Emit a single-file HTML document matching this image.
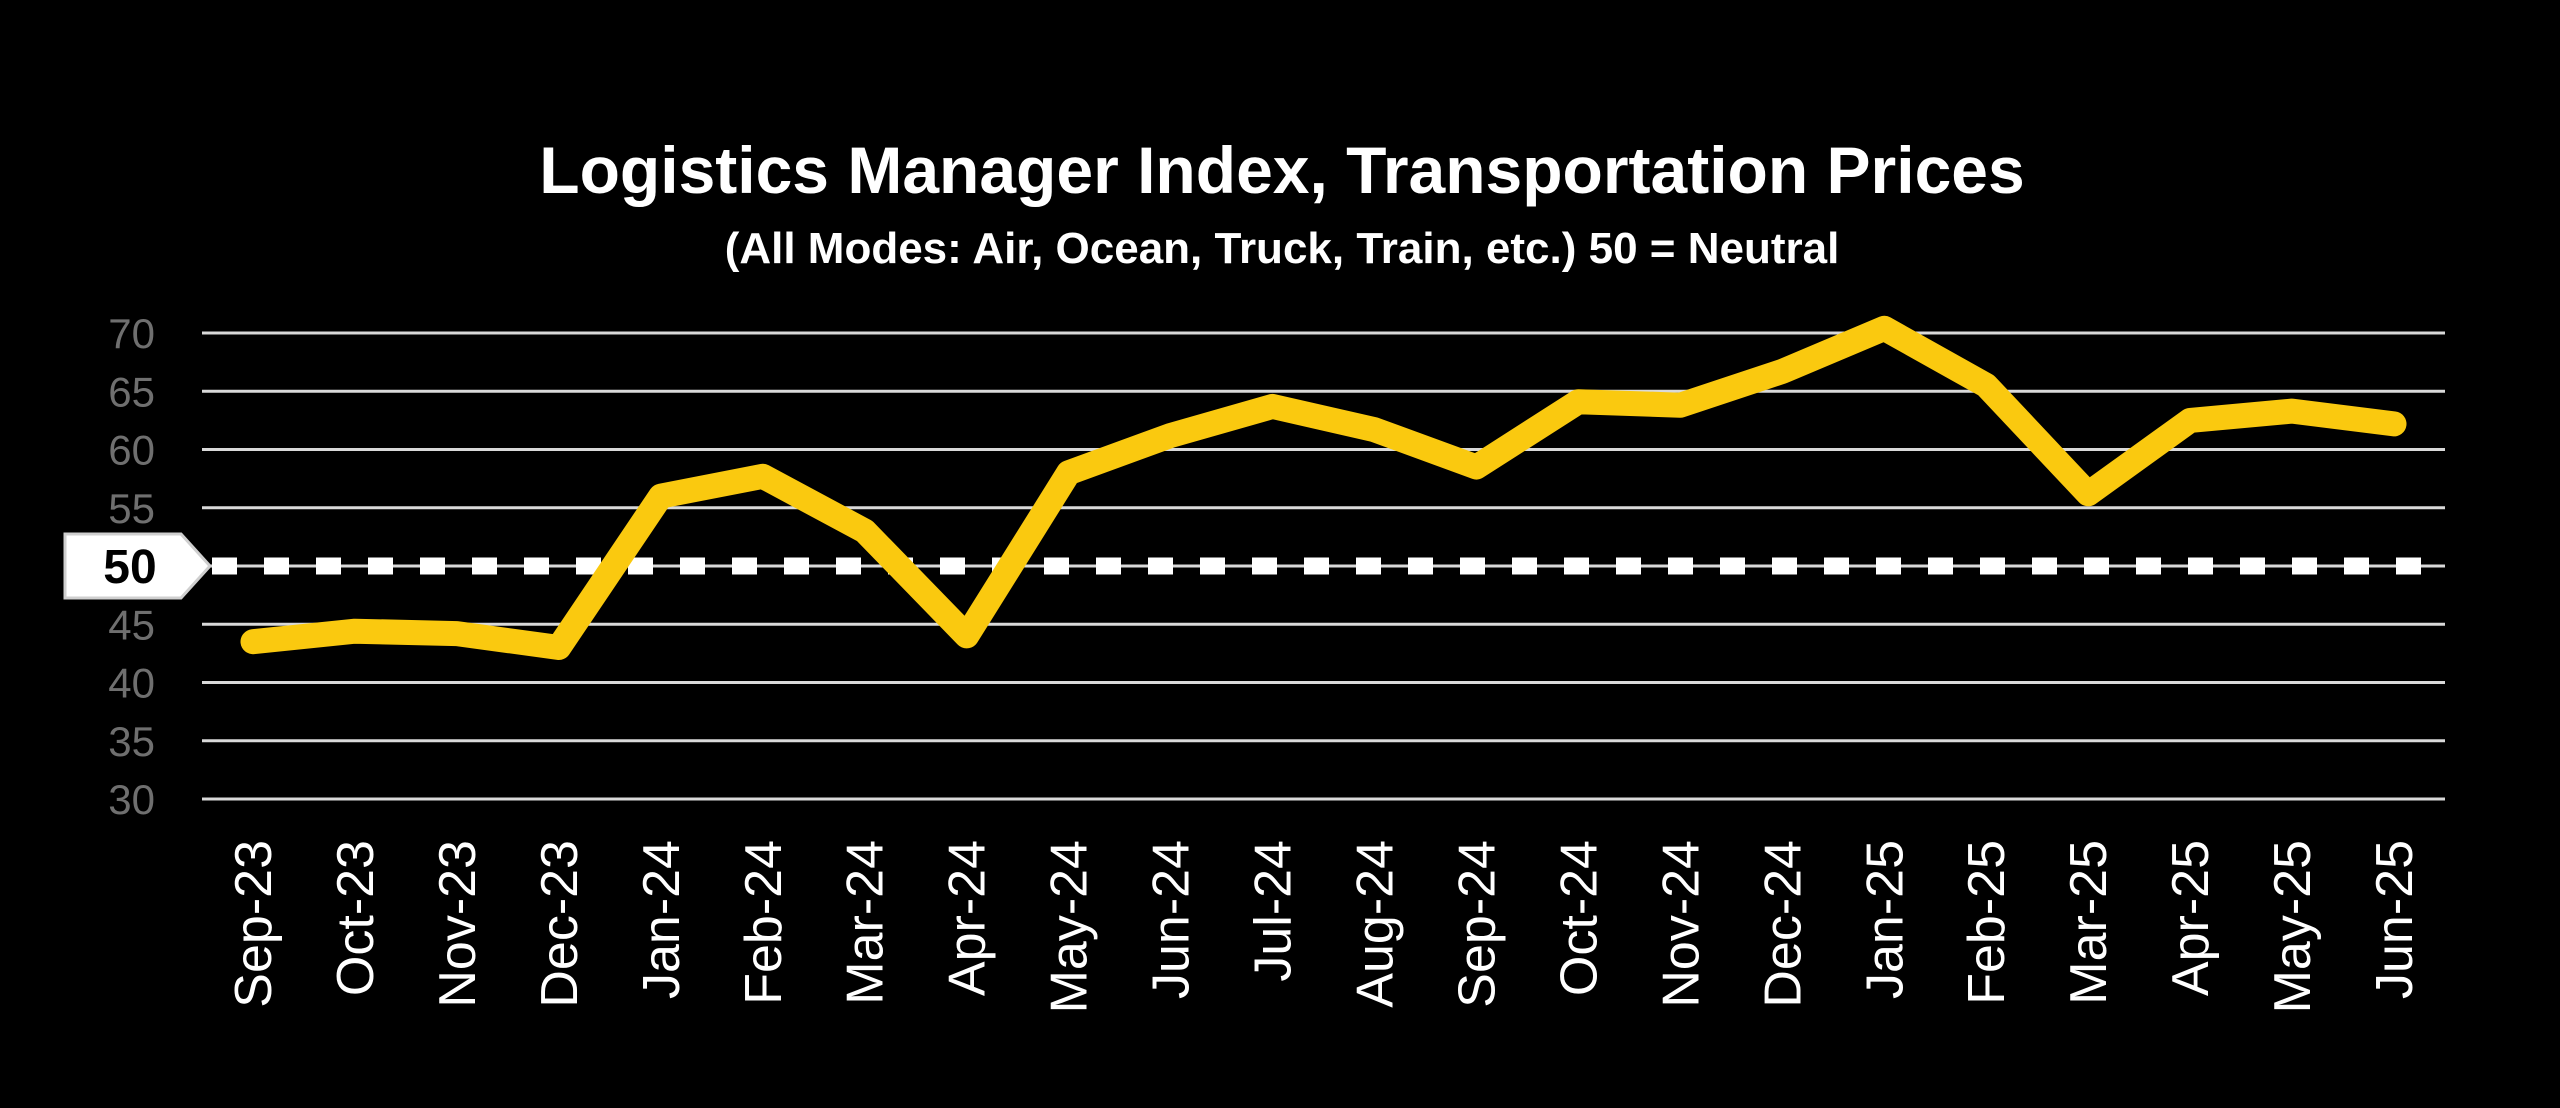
<!DOCTYPE html>
<html><head><meta charset="utf-8"><style>
html,body{margin:0;padding:0;background:#000;}
svg{display:block;}
</style></head><body>
<svg id="chart" width="2560" height="1108" viewBox="0 0 2560 1108" xmlns="http://www.w3.org/2000/svg">
<rect x="0" y="0" width="2560" height="1108" fill="#000"/>
<text x="1282" y="193" text-anchor="middle" fill="#fff" font-family="Liberation Sans, sans-serif" font-weight="bold" font-size="66">Logistics Manager Index, Transportation Prices</text>
<text x="1282" y="263" text-anchor="middle" fill="#fff" font-family="Liberation Sans, sans-serif" font-weight="bold" font-size="44">(All Modes: Air, Ocean, Truck, Train, etc.) 50 = Neutral</text>
<g id="grid"></g>
<g id="yaxis"></g>
<g id="xaxis"></g>
<g id="neutral"></g>
<g id="series"></g>
</svg>
<script>
const categories = ["Sep-23","Oct-23","Nov-23","Dec-23","Jan-24","Feb-24","Mar-24","Apr-24","May-24","Jun-24","Jul-24","Aug-24","Sep-24","Oct-24","Nov-24","Dec-24","Jan-25","Feb-25","Mar-25","Apr-25","May-25","Jun-25"];
const values = [43.5,44.4,44.2,43.0,56.0,57.7,53.0,44.0,58.0,61.2,63.7,61.7,58.5,64.1,63.8,66.7,70.4,65.5,56.2,62.5,63.3,62.2];
const yTicks = [30,35,40,45,55,60,65,70];
const neutralValue = 50;

const NS = "http://www.w3.org/2000/svg";
const left = 202, right = 2445, yTop = 333, yBot = 799, yMin = 30, yMax = 70;
const band = (right - left) / categories.length;
function xPos(i){ return left + band * (i + 0.5); }
function yPos(v){ return yBot - (v - yMin) / (yMax - yMin) * (yBot - yTop); }
function mk(tag, attrs, parent){
  const el = document.createElementNS(NS, tag);
  for (const k in attrs) el.setAttribute(k, attrs[k]);
  parent.appendChild(el);
  return el;
}
const grid = document.getElementById('grid');
const yaxis = document.getElementById('yaxis');
yTicks.forEach(t => {
  const ln = mk('line', {x1:left, x2:right, y1:yPos(t), y2:yPos(t), stroke:'#d9d9d9', 'stroke-width':3}, grid);
  
  
  const tx = mk('text', {x:155, y:yPos(t)+15, 'text-anchor':'end', fill:'#6f6f6f', 'font-family':'Liberation Sans, sans-serif', 'font-size':42}, yaxis);
  tx.textContent = t;
  
  
});
// neutral line
const neutral = document.getElementById('neutral');
const ny = yPos(neutralValue);
const nl = mk('line', {x1:left, x2:right, y1:ny, y2:ny, stroke:'#d9d9d9', 'stroke-width':3}, neutral);


const nd = mk('line', {x1:212, x2:right, y1:ny, y2:ny, stroke:'#fff', 'stroke-width':17, 'stroke-dasharray':'25 27'}, neutral);


const box = mk('polygon', {points:`65,${ny-32} 181,${ny-32} 210,${ny} 181,${ny+32} 65,${ny+32}`, fill:'#fff', stroke:'#cfcfcf', 'stroke-width':3}, neutral);


const nt = mk('text', {x:130, y:ny+17, 'text-anchor':'middle', fill:'#000', 'font-family':'Liberation Sans, sans-serif', 'font-weight':'bold', 'font-size':48}, neutral);
nt.textContent = neutralValue;


// x labels
const xaxis = document.getElementById('xaxis');
categories.forEach((c, i) => {
  const x = xPos(i) + 18, y = 840;
  const tx = mk('text', {x:x, y:y, transform:`rotate(-90 ${x} ${y})`, 'text-anchor':'end', fill:'#fff', 'font-family':'Liberation Sans, sans-serif', 'font-size':52}, xaxis);
  tx.textContent = c;
  
  
});
// series
const series = document.getElementById('series');
const pts = values.map((v, i) => xPos(i).toFixed(1) + ',' + yPos(v).toFixed(1)).join(' ');
const pl = mk('polyline', {points:pts, fill:'none', stroke:'#FAC90F', 'stroke-width':25, 'stroke-linejoin':'round', 'stroke-linecap':'round'}, series);


</script>
</body></html>
